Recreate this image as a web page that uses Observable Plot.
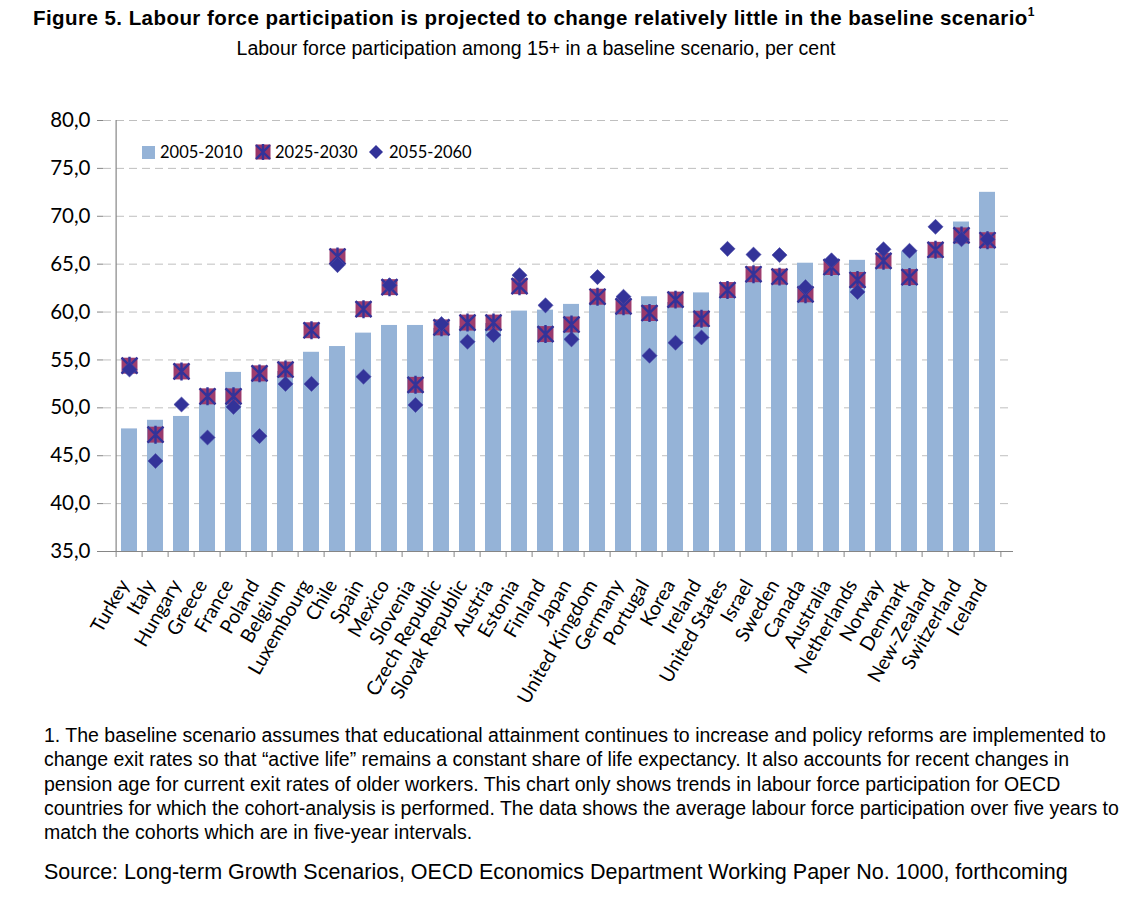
<!DOCTYPE html>
<html>
<head>
<meta charset="utf-8">
<script src="https://cdn.jsdelivr.net/npm/d3@7"></script>
<script src="https://cdn.jsdelivr.net/npm/@observablehq/plot@0.6"></script>
<style>
  html, body { margin: 0; padding: 0; background: #fff; }
  #page { position: relative; width: 1147px; height: 899px; overflow: hidden; font-family: "Liberation Sans", Arial, sans-serif; color: #000; }
  #title { position: absolute; left: 33px; top: 6px; font-weight: bold; font-size: 20.5px; letter-spacing: 0.45px; line-height: 24px; white-space: nowrap; }
  #title sup { font-size: 12px; vertical-align: 9px; line-height: 0; letter-spacing: 0; }
  #subtitle { position: absolute; left: 0; width: 1072px; top: 37px; text-align: center; font-size: 19.5px; line-height: 22px; white-space: nowrap; }
  #chart { position: absolute; left: 0; top: 90px; }
  #legend { position: absolute; left: 137px; top: 141px; height: 23px; width: 342px; background: #fff; font-family: Lato, sans-serif; font-size: 16.5px; white-space: nowrap; }
  #legend > * { position: absolute; }
  #legend span { top: 1px; line-height: 21px; }
  #note { position: absolute; left: 44px; top: 723px; font-size: 19.5px; line-height: 24.3px; white-space: nowrap; }
  #source { position: absolute; left: 44px; top: 859px; font-size: 21.5px; line-height: 26px; white-space: nowrap; }
</style>
</head>
<body>
<div id="page">
  <div id="title">Figure 5. Labour force participation is projected to change relatively little in the baseline scenario<sup>1</sup></div>
  <div id="subtitle">Labour force participation among 15+ in a baseline scenario, per cent</div>
  <div id="chart"></div>
  <div id="legend"></div>
  <div id="note">1. The baseline scenario assumes that educational attainment continues to increase and policy reforms are implemented to<br>change exit rates so that “active life” remains a constant share of life expectancy. It also accounts for recent changes in<br>pension age for current exit rates of older workers. This chart only shows trends in labour force participation for OECD<br>countries for which the cohort-analysis is performed. The data shows the average labour force participation over five years to<br>match the cohorts which are in five-year intervals.</div>
  <div id="source">Source: Long-term Growth Scenarios, OECD Economics Department Working Paper No. 1000, forthcoming</div>
</div>
<script>
// ---- data ----
const countries = ["Turkey","Italy","Hungary","Greece","France","Poland","Belgium","Luxembourg","Chile","Spain","Mexico","Slovenia","Czech Republic","Slovak Republic","Austria","Estonia","Finland","Japan","United Kingdom","Germany","Portugal","Korea","Ireland","United States","Israel","Sweden","Canada","Australia","Netherlands","Norway","Denmark","New-Zealand","Switzerland","Iceland"];
const v2005 = [47.8,48.7,49.1,50.4,53.7,53.0,53.8,55.8,56.4,57.8,58.6,58.6,58.3,58.5,58.8,60.1,60.2,60.8,61.0,59.9,61.6,61.0,62.0,61.9,63.2,62.9,65.1,64.3,65.4,64.5,66.3,65.8,69.4,72.5];
const v2025 = [54.4,47.2,53.8,51.2,51.2,53.6,54.0,58.1,65.8,60.3,62.6,52.4,58.4,58.9,58.9,62.7,57.7,58.7,61.6,60.6,59.9,61.3,59.3,62.3,63.95,63.7,61.85,64.7,63.35,65.35,63.65,66.5,68.0,67.5];
const v2055 = [54.0,44.45,50.35,46.9,50.1,47.05,52.5,52.5,64.9,53.25,62.8,50.3,58.75,56.9,57.6,63.85,60.7,57.15,63.65,61.6,55.45,56.8,57.35,66.6,66.0,65.95,62.6,65.4,62.1,66.55,66.4,68.9,67.6,67.6];
const seriesNames = ["2005-2010","2025-2030","2055-2060"];
const yTicks = [35,40,45,50,55,60,65,70,75,80];

const data = countries.map((c, i) => ({country: c, v2005: v2005[i], v2025: v2025[i], v2055: v2055[i]}));

// ---- styles ----
const barColor = "#95B3D7";
const squareColor = "#993366";
const blue = "#333399";
const axisColor = "#868686";
const gridColor = "#BFBFBF";

// asterisk-like star: X through corners plus a vertical bar
const star = {
  draw(context, size) {
    const h = Math.sqrt(size) / 2;
    context.moveTo(-h, -h); context.lineTo(h, h);
    context.moveTo(-h, h); context.lineTo(h, -h);
    context.moveTo(0, -h - 1); context.lineTo(0, h + 1);
  }
};

const W = 1147, H = 620, mL = 103, mR = 134, mT = 30, mB = 159;
const step = (W - mL - mR) / countries.length;
const fmt = d => d.toFixed(1).replace(".", ",");

const chart = Plot.plot({
  width: W, height: H,
  marginLeft: mL, marginRight: mR, marginTop: mT, marginBottom: mB,
  style: {fontFamily: "Lato, sans-serif", color: "#000", background: "transparent"},
  x: {domain: countries, paddingInner: 0.4, paddingOuter: 0.2, axis: null},
  y: {domain: [yTicks[0], yTicks[yTicks.length - 1]], axis: null},
  marks: [
    Plot.gridY(yTicks.slice(1), {stroke: gridColor, strokeOpacity: 1, strokeWidth: 1, strokeDasharray: "8,5"}),
    Plot.barY(data, {x: "country", y: "v2005", fill: barColor, clip: true}),
    Plot.dot(data, {x: "country", y: "v2025", symbol: "square", r: 9, fill: squareColor, fillOpacity: 0.95}),
    Plot.dot(data, {x: "country", y: "v2025", symbol: star, r: 9, fill: "none", stroke: blue, strokeWidth: 2.4}),
    Plot.dot(data, {x: "country", y: "v2055", symbol: "diamond2", r: 6.8, fill: blue, stroke: "#4a4aa8", strokeWidth: 0.6}),
    Plot.ruleY([yTicks[0]], {stroke: axisColor, strokeWidth: 1.2}),
    Plot.ruleX([countries[0]], {dx: -step / 2, stroke: axisColor, strokeWidth: 1.2}),
    Plot.axisY({ticks: yTicks, tickFormat: fmt, tickSize: 6, tickPadding: 7, fontSize: 20.5, stroke: axisColor, label: null}),
    Plot.axisX({ticks: countries, tickSize: 6, tickFormat: () => "", dx: -step / 2, stroke: axisColor, label: null}),
    Plot.axisX({ticks: [countries[countries.length - 1]], tickSize: 6, tickFormat: () => "", dx: step / 2, stroke: axisColor, label: null}),
    Plot.axisX({ticks: countries, tickSize: 0, tickPadding: 30, tickRotate: -60, fontSize: 19.5, dx: -5, label: null})
  ]
});
document.getElementById("chart").appendChild(chart);

// ---- legend (HTML, absolutely placed items) ----
const legend = document.getElementById("legend");
const ox = 137; // legend left in page coords
const items = [
  {swatch: `<svg width="13" height="13"><rect x="0" y="0" width="13" height="13" fill="${barColor}"/></svg>`, sx: 142, sy: 5, tx: 160},
  {swatch: `<svg width="16" height="16"><rect x="0.5" y="0.5" width="15" height="15" fill="${squareColor}"/><path d="M1,1L15,15M1,15L15,1M8,0L8,16" stroke="${blue}" stroke-width="2.4"/></svg>`, sx: 255, sy: 3, tx: 275},
  {swatch: `<svg width="16" height="16"><path d="M8,1L15,8L8,15L1,8Z" fill="${blue}"/></svg>`, sx: 368, sy: 3, tx: 389}
];
seriesNames.forEach((name, i) => {
  const it = items[i];
  const s = document.createElement("div");
  s.style.left = (it.sx - ox) + "px"; s.style.top = it.sy + "px"; s.style.lineHeight = "0";
  s.innerHTML = it.swatch;
  legend.appendChild(s);
  const t = document.createElement("span");
  t.style.left = (it.tx - ox) + "px";
  t.textContent = name;
  legend.appendChild(t);
});
</script>
</body>
</html>
